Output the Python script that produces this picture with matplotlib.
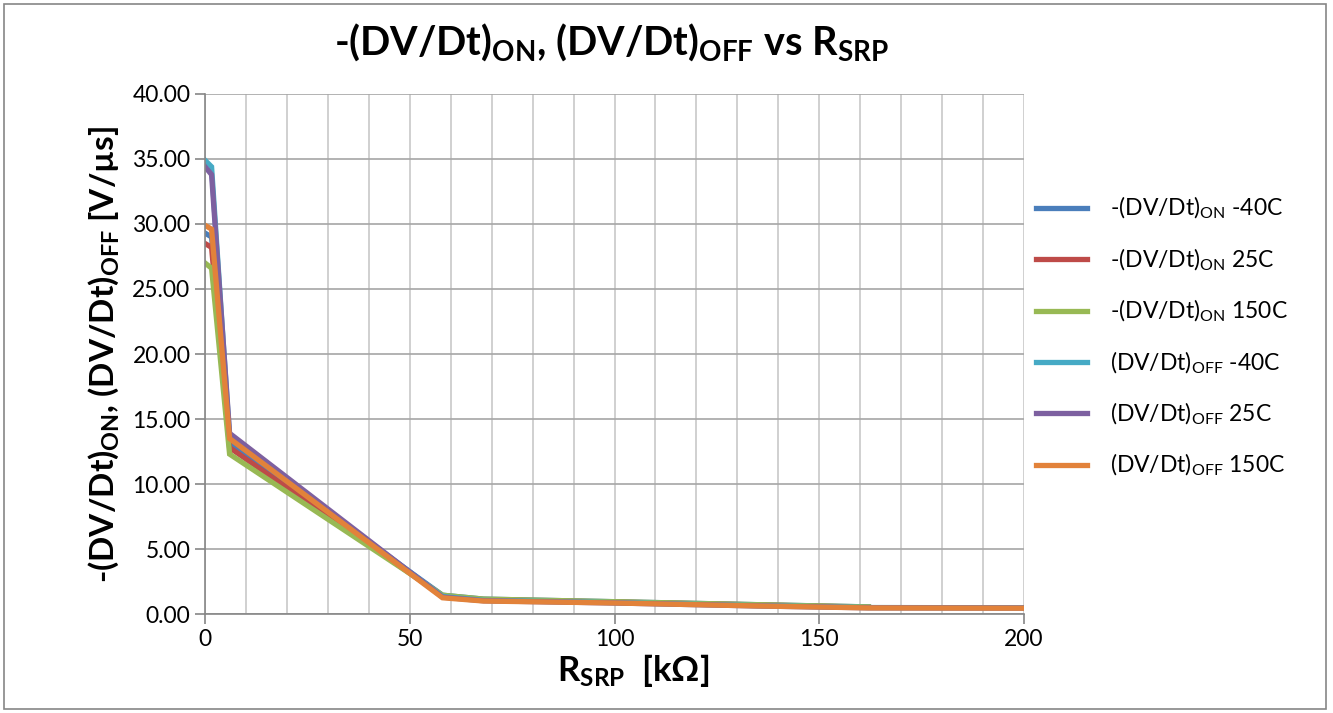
import numpy as np
import matplotlib
matplotlib.use('Agg')
import matplotlib.pyplot as plt
from matplotlib.patches import Rectangle

plt.rcParams['font.family'] = ['Lato', 'DejaVu Sans']
plt.rcParams['mathtext.fontset'] = 'custom'
plt.rcParams['mathtext.rm'] = 'Lato'
plt.rcParams['mathtext.bf'] = 'Lato:bold'
plt.rcParams['mathtext.it'] = 'Lato:italic'

# Dados
r_on = [0, 1.6, 6, 58, 68, 100, 135, 162]
r_off = [0, 1.6, 6, 58, 68, 100, 135, 162, 200]

on_m40 = [29.3, 29.0, 13.2, 1.45, 1.15, 0.95, 0.72, 0.55]
on_25 = [28.5, 28.2, 12.8, 1.40, 1.10, 0.92, 0.70, 0.52]
on_150 = [27.0, 26.6, 12.3, 1.45, 1.15, 0.95, 0.72, 0.55]
off_m40 = [34.9, 34.4, 13.6, 1.35, 1.05, 0.88, 0.65, 0.50, 0.48]
off_25 = [34.4, 33.8, 13.9, 1.30, 1.02, 0.85, 0.62, 0.48, 0.46]
off_150 = [29.9, 29.6, 13.5, 1.25, 1.00, 0.85, 0.62, 0.47, 0.45]

labels = [r'-(DV/Dt)$_{\mathrm{ON}}$ -40C',
          r'-(DV/Dt)$_{\mathrm{ON}}$ 25C',
          r'-(DV/Dt)$_{\mathrm{ON}}$ 150C',
          r'(DV/Dt)$_{\mathrm{OFF}}$ -40C',
          r'(DV/Dt)$_{\mathrm{OFF}}$ 25C',
          r'(DV/Dt)$_{\mathrm{OFF}}$ 150C']
cores = ['#4A7EBB', '#BE4B48', '#98B954', '#46AAC5', '#7D60A0', '#E2823A']

fig = plt.figure(figsize=(13.33, 7.13), dpi=100)
ax = fig.add_axes([0.1538, 0.1388, 0.6144, 0.7294])

series = [(r_on, on_m40), (r_on, on_25), (r_on, on_150),
          (r_off, off_m40), (r_off, off_25), (r_off, off_150)]
for (x, y), lab, c in zip(series, labels, cores):
    ax.plot(x, y, color=c, lw=3.8, label=lab, solid_joinstyle='miter')

ax.set_xlim(0, 200)
ax.set_ylim(0, 40)
ax.set_xticks(np.arange(0, 201, 50))
ax.set_xticks(np.arange(0, 201, 10), minor=True)
ax.set_yticks(np.arange(0, 40.1, 5))
ax.set_yticklabels([f'{v:.2f}' for v in np.arange(0, 40.1, 5)])
ax.grid(True, which='major', axis='y', color='#A6A6A6', lw=1.2)
ax.grid(True, which='both', axis='x', color='#C8C8C8', lw=1.2)
ax.set_axisbelow(True)
for s in ['top', 'right']:
    ax.spines[s].set_visible(False)
for s in ['left', 'bottom']:
    ax.spines[s].set_color('#868686')
    ax.spines[s].set_linewidth(1.2)
ax.tick_params(axis='both', which='major', labelsize=16.5, color='#868686', length=7, width=1.2)
ax.tick_params(axis='x', which='minor', length=0)

ax.set_title(r'-(DV/Dt)$_{\mathbf{ON}}$, (DV/Dt)$_{\mathbf{OFF}}$ vs R$_{\mathbf{SRP}}$',
             fontsize=28.5, fontweight='bold', x=0.496, pad=28)
ax.set_xlabel(r'R$_{\mathbf{SRP}}$  [k$\mathbf{\Omega}$]', fontsize=25, fontweight='bold',
              labelpad=2, x=0.523)
ax.set_ylabel(r'-(DV/Dt)$_{\mathbf{ON}}$, (DV/Dt)$_{\mathbf{OFF}}$ [V/µs]', fontsize=24, fontweight='bold', labelpad=8)

ax.legend(loc='upper left', bbox_to_anchor=(0.99, 0.845), frameon=False, fontsize=16.5,
          handlelength=2.2, labelspacing=1.1, handletextpad=1.0)

fig.patches.append(Rectangle((0.003, 0.006), 0.992, 0.988, transform=fig.transFigure,
                             fill=False, edgecolor='#868686', lw=1.2))

fig.savefig('out.png', dpi=100)
